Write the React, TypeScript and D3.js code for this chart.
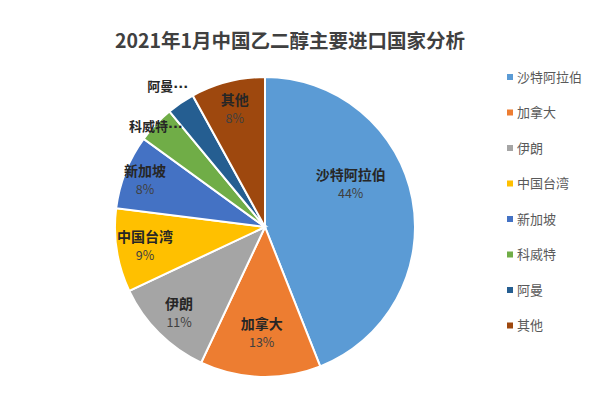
import React from "react";
import { arc, pie, PieArcDatum } from "d3";

const categories = ["沙特阿拉伯", "加拿大", "伊朗", "中国台湾", "新加坡", "科威特", "阿曼", "其他"];
const shares = [44, 13, 11, 9, 8, 4, 3, 8];
const colors = ["#5B9BD5", "#ED7D31", "#A5A5A5", "#FFC000", "#4472C4", "#70AD47", "#255E91", "#9E480E"];
// slices whose label sits outside, truncated with dots
const truncated = ["科威特", "阿曼"];

const title = "2021年1月中国乙二醇主要进口国家分析";

interface Slice {
  name: string
  value: number
  color: string
}

export default function App() {
  const width = 600;
  const height = 395;
  const cx = 265;
  const cy = 227;
  const radius = 150;
  const font = "'Noto Sans CJK SC', 'Noto Sans', sans-serif";

  const data: Slice[] = categories.map((name, i) => ({ name, value: shares[i], color: colors[i] }));

  const pieGen = pie<Slice>().value((d) => d.value).sort(null);
  const arcs = pieGen(data);
  const arcGen = arc<PieArcDatum<Slice>>().innerRadius(0).outerRadius(radius);

  // label radius as a fraction of the pie radius (Excel "best fit" places them unevenly)
  const labelFrac: Record<string, number> = { "沙特阿拉伯": 0.64, "加拿大": 0.71, "新加坡": 0.86, "科威特": 0.98, "阿曼": 1.13 };
  // angle shift for the big slice label, in radians
  const labelShift: Record<string, number> = { "沙特阿拉伯": -0.28 };

  const labelPos = (a: PieArcDatum<Slice>) => {
    const r = radius * (labelFrac[a.data.name] ?? 0.81);
    const ang = (a.startAngle + a.endAngle) / 2 + (labelShift[a.data.name] ?? 0);
    return [r * Math.sin(ang), -r * Math.cos(ang)];
  };

  return (
    <svg
      width={width}
      height={height}
      style={{ position: "absolute", left: 0, top: 0, background: "#fff", fontFamily: font }}
    >
      <text x={290} y={48} textAnchor="middle" fontSize={19.5} fontWeight="bold" fill="#404040">
        {title}
      </text>

      <g transform={`translate(${cx}, ${cy})`}>
        {arcs.map((a, i) => (
          <path key={i} d={arcGen(a) ?? ""} fill={a.data.color} stroke="#fff" strokeWidth={2} />
        ))}

        {arcs.map((a, i) => {
          const [x, y] = labelPos(a);
          if (truncated.includes(a.data.name)) {
            return (
              <text key={i} x={x - 2} y={y} dy="0.35em" textAnchor="middle" fontSize={13} fontWeight="bold" fill="#262626">
                {a.data.name}
                <tspan fontFamily="'DejaVu Sans', sans-serif" fontSize={13}>···</tspan>
              </text>
            );
          }
          return (
            <g key={i}>
              <text x={x} y={y - 4} textAnchor="middle" fontSize={14} fontWeight="bold" fill="#262626">
                {a.data.name}
              </text>
              <text x={x} y={y + 14} textAnchor="middle" fontSize={12.5} fill="#404040">
                {a.data.value}%
              </text>
            </g>
          );
        })}
      </g>

      {data.map((d, i) => {
        const y = 77 + i * 35.5;
        return (
          <g key={i}>
            <rect x={507} y={y - 3} width={6} height={6} fill={d.color} />
            <text x={517} y={y} dy="0.35em" fontSize={13} fill="#595959">
              {d.name}
            </text>
          </g>
        );
      })}
    </svg>
  );
}
